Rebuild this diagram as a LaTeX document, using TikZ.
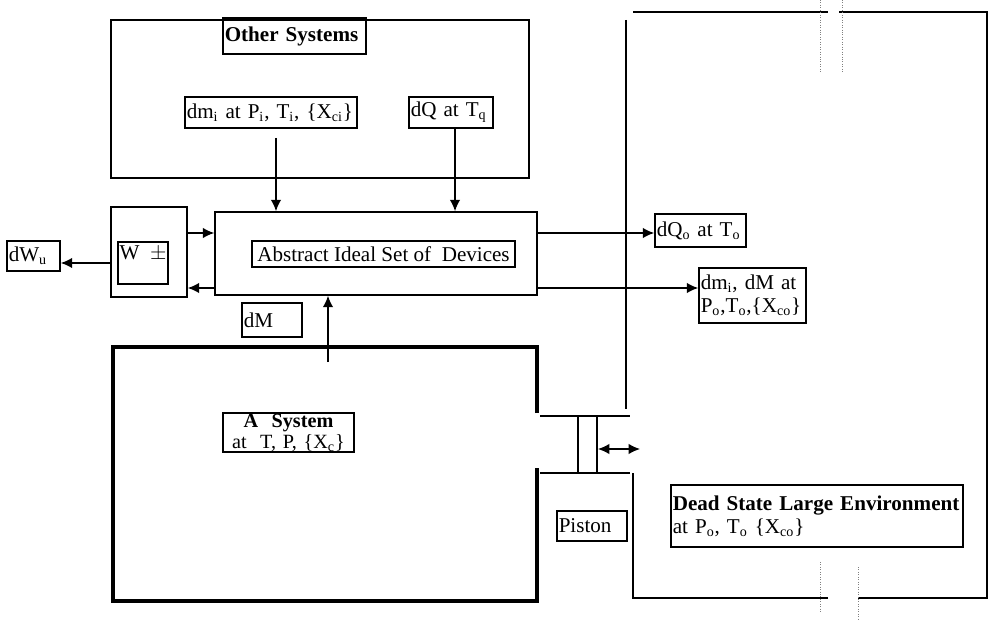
\documentclass[tikz,border=0pt]{standalone}
\usepackage{fontspec}
\setmainfont{Liberation Serif}
\usetikzlibrary{positioning,arrows.meta}
\tikzset{
    box/.style={draw, rectangle, line width=0.9pt, inner xsep=1pt, inner ysep=1pt, font=\fontsize{12}{13}\selectfont},
    lbox/.style={box, align=left},
    cbox/.style={box, align=center},
    flow/.style={line width=0.8pt, -{Latex[length=6.5pt,width=6pt]}},
    wall/.style={line width=1.1pt},
    heavy wall/.style={line width=1.9pt},
    cut/.style={densely dotted, line width=0.4pt, gray}
}

\begin{document}
\begin{tikzpicture}[x=0.02cm, y=-0.02cm]
    \useasboundingbox (0,0) rectangle (989,621);

    \node[box, minimum width=8.36cm, minimum height=3.16cm] (others) at (320,99) {};
    \node[lbox, text width=2.79cm, minimum height=0.72cm] (otitle) at (294.5,36) {\textbf{Other Systems}};
    \node[lbox, text width=3.37cm, minimum height=0.62cm] (dmi) at (271,112.5) {dm\textsubscript{i} at P\textsubscript{i}, T\textsubscript{i}, \{X\textsubscript{ci}\}};
    \node[lbox, text width=1.61cm, minimum height=0.62cm] (dq) at (451,112.5) {dQ at T\textsubscript{q}};

    \node[box, minimum width=6.44cm, minimum height=1.66cm] (abstract) at (376,253.5) {};
    \node[box, minimum width=5.26cm, minimum height=0.52cm] (devices) at (383.5,254) {Abstract Ideal Set of\ \ Devices};

    \node[box, minimum width=1.52cm, minimum height=1.8cm] (wout) at (149,252) {};
    \node[box, minimum width=1cm, text height=9pt, text depth=13pt] (win) at (143,263) {W\ \ $\pm$};
    \node[lbox, text width=0.99cm, minimum height=0.6cm] (dwu) at (33.5,256) {dW\textsubscript{u}};

    \node[lbox, text width=1.75cm, minimum height=0.66cm] (dqo) at (700.5,230.5) {dQ\textsubscript{o} at T\textsubscript{o}};
    \node[lbox, text width=2.07cm, minimum height=1.1cm] (dmo) at (752.5,295.5) {dm\textsubscript{i}, dM at\\P\textsubscript{o},T\textsubscript{o},\{X\textsubscript{co}\}};
    \node[lbox, text width=1.13cm, minimum height=0.68cm] (dM) at (272,320) {dM};

    \draw[heavy wall] (537,413) -- (537,347) -- (113,347) -- (113,601) -- (537,601) -- (537,468);
    \node[cbox, text width=2.55cm, minimum height=0.78cm, inner ysep=0pt, font=\fontsize{11.5}{12}\selectfont] (atext) at (288.5,432.5) {\textbf{A\ \ System}\\at\ \ T, P, \{X\textsubscript{c}\}};

    \draw[wall] (626,20) -- (626,409);
    \draw[wall] (633,12) -- (828,12);
    \draw[wall] (839,12) -- (987,12) -- (987,598) -- (858,598);
    \draw[wall] (828,598) -- (633,598) -- (633,473);
    \draw[wall] (540,416) -- (630,416);
    \draw[wall] (540,473) -- (630,473);
    \node[draw, line width=1.1pt, minimum width=0.38cm, minimum height=1.14cm, inner sep=0pt] (piston) at (587.5,444.5) {};
    \node[lbox, text width=1.33cm, minimum height=0.6cm] (plabel) at (592,526) {Piston};
    \node[lbox, text width=5.77cm, minimum height=1.24cm] (dead) at (817,516) {\textbf{Dead State Large Environment}\\at P\textsubscript{o}, T\textsubscript{o} \{X\textsubscript{co}\}};

    \draw[cut] (820,0) -- (820,72);
    \draw[cut] (842,0) -- (842,72);
    \draw[cut] (820,562) -- (820,613);
    \draw[cut] (858,567) -- (858,621);

    \coordinate (upper) at (0,233);
    \coordinate (lower) at (0,288);
    \coordinate (dmi tail) at (276,138);
    \coordinate (dq tail) at (455,128);
    \coordinate (asys tail) at (328,362);
    \coordinate (push) at (640,449);

    \draw[flow] (dmi tail) -- (dmi tail |- abstract.north);
    \draw[flow] (dq tail) -- (dq tail |- abstract.north);
    \draw[flow] (wout.east |- upper) -- (abstract.west |- upper);
    \draw[flow] (abstract.west |- lower) -- (wout.east |- lower);
    \draw[flow] (wout.west |- win) -- (dwu.east |- win);
    \draw[flow] (abstract.east |- upper) -- (dqo.west |- upper);
    \draw[flow] (abstract.east |- lower) -- (dmo.west |- lower);
    \draw[flow] (asys tail) -- (asys tail |- abstract.south);
    \draw[flow, {Latex[length=6.5pt,width=6pt]}-{Latex[length=6.5pt,width=6pt]}] (piston.east |- push) -- (push);
\end{tikzpicture}
\end{document}
